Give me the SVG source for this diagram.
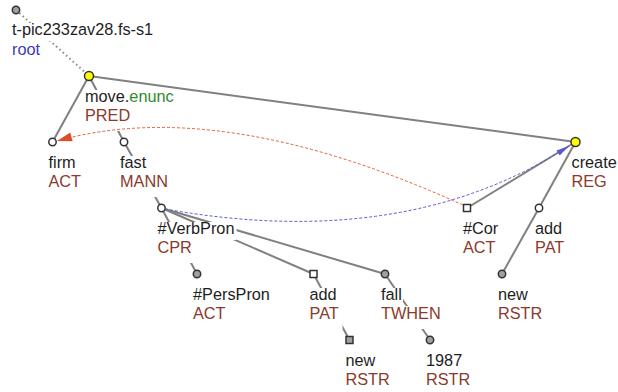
<svg xmlns="http://www.w3.org/2000/svg" width="618" height="392" viewBox="0 0 618 392">
<style>
text{font-family:"Liberation Sans",Arial,sans-serif;font-size:16.3px;fill:#1e1e1e}
.f{fill:#8b3a2b}
.g{fill:#2e8b2e}
.b{fill:#3c3cb4}
.bg{fill:#fff}
.e{stroke:#808080;stroke-width:2;fill:none}
.dot{stroke:#8a8a8a;stroke-width:2;stroke-dasharray:1.5 3;fill:none}
.n{fill:#fff;stroke:#333;stroke-width:1.5}
.gr{fill:#a0a0a0;stroke:#333;stroke-width:1.5}
.y{fill:#ffff00;stroke:#333;stroke-width:1.5}
.red{stroke:#e0603a;stroke-width:1;stroke-dasharray:3 2;fill:none}
.blue{stroke:#5a5ac8;stroke-width:1;stroke-dasharray:3 2;fill:none}
</style>
<defs>
<marker id="ar" markerUnits="userSpaceOnUse" markerWidth="20" markerHeight="12" viewBox="-16 -6 18 12" refX="0" refY="0" orient="auto">
<path d="M0,0 L-15,-4.5 L-15,4.5 z" fill="#d9502a"/>
</marker>
<marker id="ab" markerUnits="userSpaceOnUse" markerWidth="20" markerHeight="12" viewBox="-16 -6 18 12" refX="0" refY="0" orient="auto">
<path d="M0,0 L-13,-3 L-13,3 z" fill="#5a5ac8"/>
</marker>
</defs>
<g id="edges">
<line class="dot" x1="16" y1="10" x2="89" y2="76"/>
<line class="e" x1="89" y1="76" x2="52.5" y2="142"/>
<line class="e" x1="89" y1="76" x2="124" y2="142"/>
<line class="e" x1="89" y1="76" x2="575.5" y2="142"/>
<line class="e" x1="124" y1="142" x2="161.5" y2="208"/>
<line class="e" x1="161.5" y1="208" x2="197" y2="274"/>
<line class="e" x1="161.5" y1="208" x2="313.5" y2="274"/>
<line class="e" x1="161.5" y1="208" x2="385" y2="274"/>
<line class="e" x1="313.5" y1="274" x2="349.5" y2="340"/>
<line class="e" x1="385" y1="274" x2="430" y2="340"/>
<line class="e" x1="575.5" y1="142" x2="467" y2="208"/>
<line class="e" x1="575.5" y1="142" x2="539" y2="208"/>
<line class="e" x1="539" y1="208" x2="502" y2="274"/>
</g>
<g id="n-root">
<rect class="bg" x="11" y="23" width="144" height="18"/>
<rect class="bg" x="11" y="41" width="31" height="24"/>
<text x="12" y="35">t-pic233zav28.fs-s1</text>
<text class="b" x="12" y="55">root</text>
<circle class="gr" cx="16" cy="10" r="3.7"/>
</g>
<g id="n-move">
<rect class="bg" x="84" y="90" width="91" height="18"/>
<rect class="bg" x="84" y="108" width="47" height="23"/>
<text x="85" y="102">move.<tspan class="g">enunc</tspan></text>
<text class="f" x="85" y="121">PRED</text>
<circle class="y" cx="89" cy="76" r="4.5"/>
</g>
<g id="n-firm">
<rect class="bg" x="47.5" y="156" width="29" height="18"/>
<rect class="bg" x="47.5" y="174" width="35" height="23"/>
<text x="48.5" y="168">firm</text>
<text class="f" x="48.5" y="186.5">ACT</text>
<circle class="n" cx="52.5" cy="142" r="3.7"/>
</g>
<g id="n-fast">
<rect class="bg" x="119" y="156" width="28" height="18"/>
<rect class="bg" x="119" y="174" width="50" height="23"/>
<text x="120" y="168">fast</text>
<text class="f" x="120" y="186.5">MANN</text>
<circle class="n" cx="124" cy="142" r="3.7"/>
</g>
<g id="n-verbpron">
<rect class="bg" x="156.5" y="222" width="80" height="18"/>
<rect class="bg" x="156.5" y="240" width="37" height="23"/>
<text x="157.5" y="234">#VerbPron</text>
<text class="f" x="157.5" y="252.5">CPR</text>
<circle class="n" cx="161.5" cy="208" r="3.7"/>
</g>
<g id="n-perspron">
<rect class="bg" x="192" y="288" width="79" height="18"/>
<rect class="bg" x="192" y="306" width="34" height="23"/>
<text x="193" y="300">#PersPron</text>
<text class="f" x="193" y="318.5">ACT</text>
<circle class="gr" cx="197" cy="274" r="3.7"/>
</g>
<g id="n-add1">
<rect class="bg" x="308.5" y="288" width="29" height="18"/>
<rect class="bg" x="308.5" y="306" width="34" height="23"/>
<text x="309.5" y="300">add</text>
<text class="f" x="309.5" y="318.5">PAT</text>
<rect class="n" x="310" y="270.5" width="7" height="7"/>
</g>
<g id="n-fall">
<rect class="bg" x="380" y="288" width="23" height="18"/>
<rect class="bg" x="380" y="306" width="62" height="23"/>
<text x="381" y="300">fall</text>
<text class="f" x="381" y="318.5">TWHEN</text>
<circle class="gr" cx="385" cy="274" r="3.7"/>
</g>
<g id="n-new1">
<rect class="bg" x="344.5" y="354" width="32" height="18"/>
<rect class="bg" x="344.5" y="372" width="46" height="20"/>
<text x="345.5" y="366">new</text>
<text class="f" x="345.5" y="384.5">RSTR</text>
<rect class="gr" x="346" y="336.5" width="7" height="7"/>
</g>
<g id="n-1987">
<rect class="bg" x="425" y="354" width="38" height="18"/>
<rect class="bg" x="425" y="372" width="46" height="20"/>
<text x="426" y="366">1987</text>
<text class="f" x="426" y="384.5">RSTR</text>
<circle class="gr" cx="430" cy="340" r="3.7"/>
</g>
<g id="n-cor">
<rect class="bg" x="462" y="222" width="37" height="18"/>
<rect class="bg" x="462" y="240" width="34" height="23"/>
<text x="463" y="234">#Cor</text>
<text class="f" x="463" y="252.5">ACT</text>
<rect class="n" x="463.5" y="204.5" width="7" height="7"/>
</g>
<g id="n-create">
<rect class="bg" x="570.5" y="156" width="47" height="18"/>
<rect class="bg" x="570.5" y="174" width="37" height="23"/>
<text x="571.5" y="168">create</text>
<text class="f" x="571.5" y="186.5">REG</text>
<circle class="y" cx="575.5" cy="142" r="4.5"/>
</g>
<g id="n-add2">
<rect class="bg" x="534" y="222" width="29" height="18"/>
<rect class="bg" x="534" y="240" width="34" height="23"/>
<text x="535" y="234">add</text>
<text class="f" x="535" y="252.5">PAT</text>
<circle class="n" cx="539" cy="208" r="3.7"/>
</g>
<g id="n-new2">
<rect class="bg" x="497" y="288" width="32" height="18"/>
<rect class="bg" x="497" y="306" width="46" height="23"/>
<text x="498" y="300">new</text>
<text class="f" x="498" y="318.5">RSTR</text>
<circle class="gr" cx="502" cy="274" r="3.7"/>
</g>
<g id="coref">
<path class="red" d="M463,205 Q220,95 57,141" marker-end="url(#ar)"/>
<path class="blue" d="M165,209 Q405,252 569,146" marker-end="url(#ab)"/>
</g>
</svg>
